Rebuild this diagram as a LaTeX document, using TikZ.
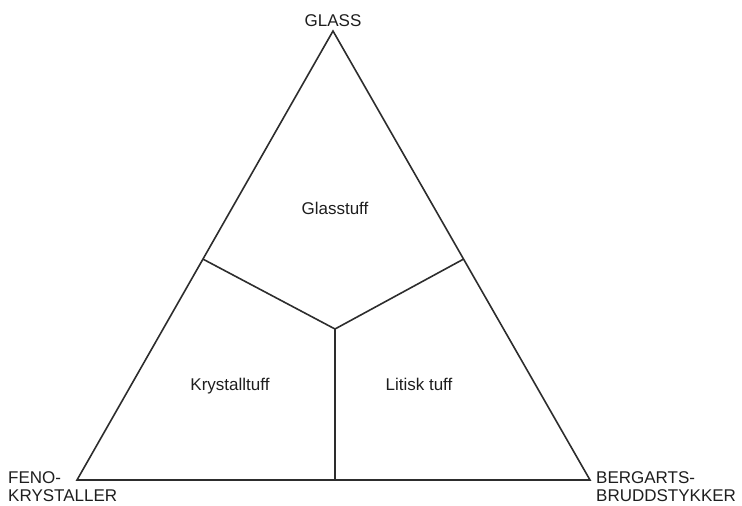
\documentclass[tikz,border=0pt]{standalone}
\usepackage{fontspec}
\setmainfont{Liberation Sans}
\usetikzlibrary{calc}
\definecolor{linecol}{RGB}{45,45,45}
\definecolor{txtcol}{RGB}{30,30,30}

\begin{document}
\begin{tikzpicture}[
  x=1pt, y=-1pt,
  every node/.style={font=\fontsize{17}{18}\selectfont, text=txtcol},
  %% outline of the triangle and the field borders
  edge/.style={draw=linecol, line width=1.6pt, line join=miter},
  bdr/.style={draw=linecol, line width=1.6pt},
  %% corner labels (two lines, anchored at the last baseline)
  corner/.style={inner sep=0pt, align=left, anchor=base west},
  %% field names
  field/.style={inner sep=0pt, anchor=base},
]
\useasboundingbox (0,0) rectangle (742,506);

%%── Corners of the triangle ──────────────────────────────────────────────────
\coordinate (top) at (333,31);
\coordinate (lft) at (77,480);
\coordinate (rgt) at (590,480);

%%── Field borders meet here ──────────────────────────────────────────────────
\coordinate (mid) at (335,329);
\coordinate (lsd) at ($(lft)!0.492!(top)$);
\coordinate (rsd) at ($(rgt)!0.492!(top)$);
\coordinate (bsd) at (mid |- lft);

%%── Triangle ─────────────────────────────────────────────────────────────────
\draw[edge] (top) -- (lft) -- (rgt) -- cycle;

%%── Borders between the fields ───────────────────────────────────────────────
\foreach \s in {lsd, rsd, bsd}
  \draw[bdr] (mid) -- (\s);

%%── Corner labels ────────────────────────────────────────────────────────────
\node[field] (glass) at (333,27) {GLASS};
\node[corner] (feno) at (8,501) {FENO-\\KRYSTALLER};
\node[corner] (berg) at (596,501) {BERGARTS-\\BRUDDSTYKKER};

%%── Field names ──────────────────────────────────────────────────────────────
\node[field] (gtuff) at (335,214) {Glasstuff};
\node[field] (ktuff) at (230,390) {Krystalltuff};
\node[field] (ltuff) at (419,390) {Litisk tuff};

\end{tikzpicture}
\end{document}
